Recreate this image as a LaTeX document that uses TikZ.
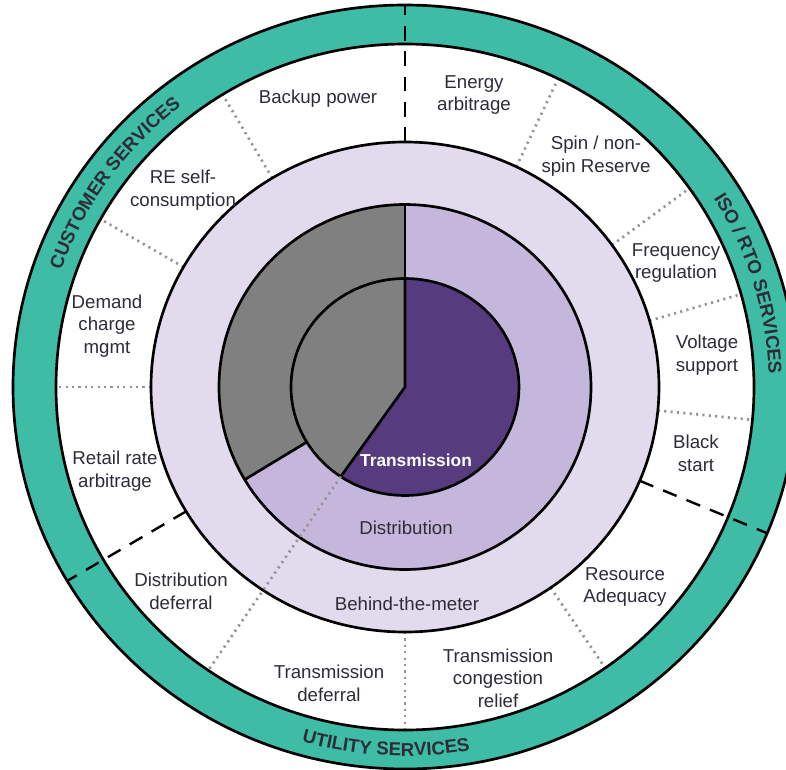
\documentclass[tikz,border=0pt]{standalone}
\usepackage{fontspec}
\setmainfont{Liberation Sans}
\usetikzlibrary{decorations.text}

\definecolor{ringteal}{RGB}{62,188,165}
\definecolor{meterlav}{RGB}{226,218,237}
\definecolor{distlav}{RGB}{197,183,220}
\definecolor{transpurple}{RGB}{86,59,126}
\definecolor{sharegray}{RGB}{128,128,128}
\definecolor{labelink}{RGB}{45,45,55}

% ellipse radii (x / y) of the nested rings:
% transmission 114/108.5, distribution 186/182.5, behind-the-meter 254/245,
% services band 349/343, outer rim 392/382
\begin{document}
\begin{tikzpicture}[x=0.75pt,y=0.75pt,
  rim/.style={draw=black,line width=2pt},
  itemsep/.style={draw=black!42,line width=2pt,dash pattern=on 1.6pt off 3.2pt},
  groupsep/.style={draw=black,line width=1.8pt,dash pattern=on 11pt off 8pt},
  item/.style={align=center,text=labelink,font=\fontsize{14}{17}\selectfont,inner sep=0pt},
  bandtext/.style={decorate,decoration={text along path,text align=center,text color=labelink,
    text={|\bfseries\fontsize{14}{14}\selectfont|#1}}}]
\useasboundingbox (-405,-382) rectangle (381,387);

% outer rim and white services band
\fill[ringteal] (0,0) ellipse[x radius=392,y radius=382];
\fill[white] (0,0) ellipse[x radius=349,y radius=343];

% separators between single services
\foreach \a in {121.5,150.7,180,270,305,64,35.4,15.7,-5.5}
  \draw[itemsep] (\a:254 and 245) -- (\a:349 and 343);
% separators between service groups
\foreach \a in {90,210.5,-22.5}
  \draw[groupsep] (\a:254 and 245) -- (\a:392 and 382);

\draw[rim] (0,0) ellipse[x radius=392,y radius=382];
\draw[rim] (0,0) ellipse[x radius=349,y radius=343];

% behind-the-meter ring
\filldraw[rim,fill=meterlav] (0,0) ellipse[x radius=254,y radius=245];

% distribution ring with grey share
\fill[distlav] (0,0) ellipse[x radius=186,y radius=182.5];
\fill[sharegray] (0,0) -- (90:186 and 182.5)
  arc[start angle=90,end angle=210.5,x radius=186,y radius=182.5] -- cycle;
\draw[rim] (0,0) ellipse[x radius=186,y radius=182.5];
\draw[rim] (90:114 and 108.5) -- (90:186 and 182.5);
\draw[rim] (210.5:114 and 108.5) -- (210.5:186 and 182.5);

% transmission core
\fill[transpurple] (0,0) ellipse[x radius=114,y radius=108.5];
\fill[sharegray] (0,0) -- (90:114 and 108.5)
  arc[start angle=90,end angle=235.7,x radius=114,y radius=108.5] -- cycle;
\draw[rim] (90:114 and 108.5) -- (0,0) -- (235.7:114 and 108.5);
\draw[rim] (0,0) ellipse[x radius=114,y radius=108.5];

% dotted ray continuing the core boundary
\draw[itemsep] (235.7:114 and 108.5) -- (235.7:349 and 343);

% group names along the rim
\path[bandtext={CUSTOMER SERVICES}] (174:364 and 356)
  arc[start angle=174,end angle=115,x radius=364,y radius=356];
\path[bandtext={ISO / RTO SERVICES}] (46:364 and 356)
  arc[start angle=46,end angle=-12,x radius=364,y radius=356];
\path[bandtext={UTILITY SERVICES}] (237:377 and 369)
  arc[start angle=237,end angle=297,x radius=377,y radius=369];

% service labels
\node[item] (backup)  at (-87,288)  {Backup power};
\node[item] (energy)  at (69,292)   {Energy\\arbitrage};
\node[item] (spin)    at (191,231)  {Spin / non-\\spin Reserve};
\node[item] (reself)  at (-222,197) {RE self-\\consumption};
\node[item] (freq)    at (271,124)  {Frequency\\regulation};
\node[item] (volt)    at (302,32)   {Voltage\\support};
\node[item] (black)   at (291,-66)  {Black\\start};
\node[item] (demand)  at (-298,61)  {Demand\\charge\\mgmt};
\node[item] (retail)  at (-290,-84) {Retail rate\\arbitrage};
\node[item] (distdef) at (-224,-204){Distribution\\deferral};
\node[item] (trandef) at (-76,-296) {Transmission\\deferral};
\node[item] (congest) at (93,-291)  {Transmission\\congestion\\relief};
\node[item] (adequacy)at (220,-200) {Resource\\Adequacy};

% ring labels
\node[item,text=white,font=\bfseries\fontsize{13}{15}\selectfont] (trans) at (11,-73) {Transmission};
\node[item] (dist)  at (1,-141)  {Distribution};
\node[item] (meter) at (2,-217)  {Behind-the-meter};
\end{tikzpicture}
\end{document}
